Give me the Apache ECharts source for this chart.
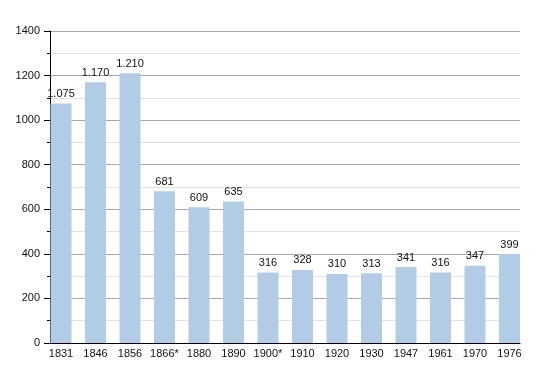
<!DOCTYPE html>
<html>
<head>
<meta charset="utf-8">
<script src="https://cdn.jsdelivr.net/npm/echarts@6/dist/echarts.min.js"></script>
<style>
html,body{margin:0;padding:0;background:#fff;}
#chart{width:550px;height:373px;}
</style>
</head>
<body>
<div id="chart"></div>
<script>
var categories = ["1831","1846","1856","1866*","1880","1890","1900*","1910","1920","1930","1947","1961","1970","1976"];
var population = [1075,1170,1210,681,609,635,316,328,310,313,341,316,347,399];
var yTicks = [0,200,400,600,800,1000,1200,1400];

var FONT = '"Liberation Sans", Arial, sans-serif';
var chart = echarts.init(document.getElementById('chart'));
function fmt(v){
  var s = String(v);
  if (v >= 1000) s = s.slice(0, s.length-3) + '.' + s.slice(s.length-3);
  return s;
}
chart.setOption({
  animation: false,
  backgroundColor: '#fff',
  grid: [
    {left: 50, right: 30, top: 31, bottom: 30},
    {left: 43.75, right: 23.25, top: 31, bottom: 30}
  ],
  xAxis: [
    {type: 'category', gridIndex: 0, data: categories,
     axisLine: {show: true, lineStyle: {color: '#000', width: 1}},
     axisTick: {show: false}, axisLabel: {show: false}, splitLine: {show: false}},
    {type: 'category', gridIndex: 1, data: categories,
     axisLine: {show: false}, axisTick: {show: false},
     axisLabel: {color: '#111', fontSize: 11, fontFamily: FONT, margin: 5, interval: 0},
     splitLine: {show: false}}
  ],
  yAxis: [
    {type: 'value', gridIndex: 0, min: yTicks[0], max: yTicks[yTicks.length-1], interval: 200,
     axisLine: {show: true, lineStyle: {color: '#000', width: 1}},
     axisTick: {show: true, length: 6, lineStyle: {color: '#000'}},
     minorTick: {show: true, splitNumber: 2, length: 3, lineStyle: {color: '#000'}},
     axisLabel: {color: '#111', fontSize: 11, fontFamily: FONT, margin: 10,
                 formatter: function(v){ return String(v); }},
     splitLine: {show: true, lineStyle: {color: '#a8a8a8', width: 1}},
     minorSplitLine: {show: true, lineStyle: {color: '#e2e2e2', width: 1}}},
    {type: 'value', gridIndex: 1, min: yTicks[0], max: yTicks[yTicks.length-1], interval: 200,
     show: false, splitLine: {show: false}}
  ],
  series: [{
    type: 'bar',
    xAxisIndex: 1, yAxisIndex: 1,
    data: population,
    barWidth: 21,
    itemStyle: {color: '#b3cce6'},
    label: {show: true, position: 'top', distance: 4, color: '#111', fontSize: 11, fontFamily: FONT,
            formatter: function(p){ return fmt(p.value); }}
  }]
});
</script>
</body>
</html>
